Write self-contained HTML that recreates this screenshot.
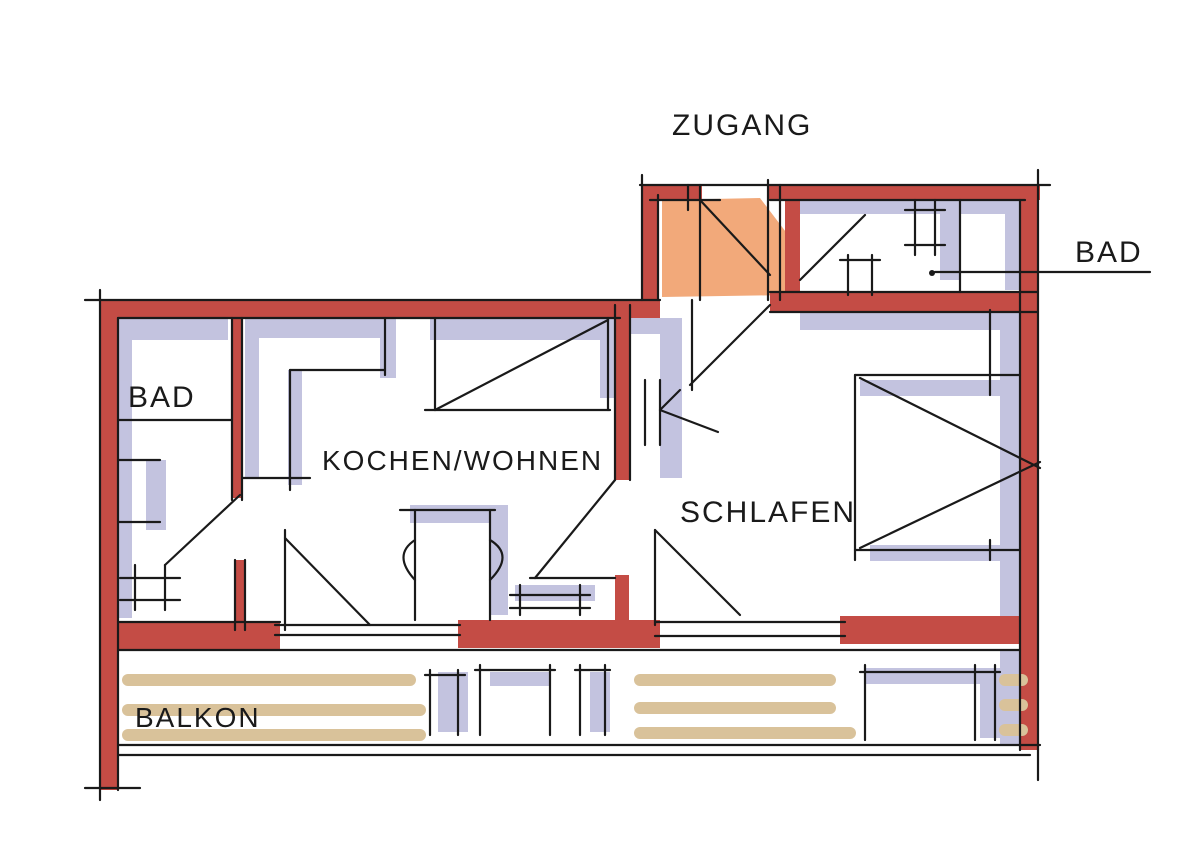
<!DOCTYPE html>
<html><head><meta charset="utf-8"><style>
html,body{margin:0;padding:0;background:#fff;}
svg{display:block}
text{font-family:"Liberation Sans",sans-serif;fill:#1a1a1a;font-size:30px;letter-spacing:2px}
</style></head><body>
<svg width="1200" height="847" viewBox="0 0 1200 847" xmlns="http://www.w3.org/2000/svg">
<rect width="1200" height="847" fill="#fff"/>
<!-- lavender shadows -->
<g fill="#b9b9da" opacity="0.85">
<rect x="118" y="318" width="110" height="22"/>
<rect x="118" y="318" width="14" height="300"/>
<rect x="245" y="318" width="150" height="20"/>
<rect x="380" y="318" width="16" height="60"/>
<rect x="430" y="318" width="185" height="22"/>
<rect x="600" y="318" width="15" height="80"/>
<rect x="288" y="370" width="14" height="115"/>
<rect x="245" y="318" width="14" height="160"/>
<rect x="630" y="318" width="50" height="16"/>
<rect x="660" y="318" width="22" height="160"/>
<rect x="800" y="312" width="220" height="18"/>
<rect x="1000" y="312" width="20" height="305"/>
<rect x="860" y="380" width="165" height="16"/>
<rect x="800" y="200" width="220" height="14"/>
<rect x="1005" y="200" width="15" height="90"/>
<rect x="940" y="200" width="20" height="80"/>
<rect x="146" y="460" width="20" height="70"/>
<rect x="410" y="505" width="95" height="18"/>
<rect x="490" y="505" width="18" height="110"/>
<rect x="515" y="585" width="80" height="16"/>
<rect x="438" y="672" width="30" height="60"/>
<rect x="490" y="672" width="60" height="14"/>
<rect x="590" y="672" width="20" height="60"/>
<rect x="865" y="668" width="120" height="16"/>
<rect x="980" y="668" width="20" height="70"/>
<rect x="1000" y="650" width="20" height="95"/>
<rect x="870" y="545" width="150" height="16"/>
</g>
<!-- orange door fill -->
<path d="M662 200 L760 198 L792 240 L790 295 L662 297 Z" fill="#f2a97a"/>
<!-- red walls -->
<g fill="#c44c45">
<rect x="100" y="300" width="18" height="490"/>
<rect x="100" y="300" width="560" height="18"/>
<rect x="642" y="185" width="16" height="115"/>
<rect x="642" y="185" width="60" height="15"/>
<rect x="768" y="185" width="272" height="15"/>
<rect x="1020" y="185" width="18" height="565"/>
<rect x="770" y="292" width="268" height="20"/>
<rect x="785" y="190" width="15" height="105"/>
<rect x="232" y="318" width="10" height="180"/>
<rect x="235" y="560" width="10" height="70"/>
<rect x="615" y="305" width="15" height="175"/>
<rect x="615" y="575" width="14" height="50"/>
<rect x="118" y="622" width="162" height="28"/>
<rect x="458" y="620" width="202" height="28"/>
<rect x="840" y="616" width="195" height="28"/>
</g>
<!-- balcony tan rails -->
<g stroke="#d9c29a" stroke-width="12" stroke-linecap="round" fill="none">
<line x1="128" y1="680" x2="410" y2="680"/>
<line x1="128" y1="710" x2="420" y2="710"/>
<line x1="128" y1="735" x2="420" y2="735"/>
<line x1="640" y1="680" x2="830" y2="680"/>
<line x1="640" y1="708" x2="830" y2="708"/>
<line x1="640" y1="733" x2="850" y2="733"/>
<line x1="1005" y1="680" x2="1022" y2="680"/>
<line x1="1005" y1="705" x2="1022" y2="705"/>
<line x1="1005" y1="730" x2="1022" y2="730"/>
</g>
<!-- black lines -->
<g stroke="#1a1a1a" stroke-width="2.2" fill="none" stroke-linecap="round">
<line x1="85" y1="300" x2="660" y2="300"/><line x1="100" y1="290" x2="100" y2="800"/>
<line x1="118" y1="318" x2="118" y2="790"/><line x1="85" y1="788" x2="140" y2="788"/>
<line x1="118" y1="318" x2="620" y2="318"/>
<line x1="640" y1="185" x2="1050" y2="185"/><line x1="650" y1="200" x2="720" y2="200"/>
<line x1="770" y1="200" x2="1025" y2="200"/>
<line x1="642" y1="175" x2="642" y2="300"/><line x1="658" y1="195" x2="658" y2="300"/>
<line x1="688" y1="185" x2="688" y2="210"/><line x1="700" y1="185" x2="700" y2="300"/>
<line x1="768" y1="180" x2="768" y2="300"/><line x1="780" y1="185" x2="780" y2="300"/>
<line x1="1020" y1="200" x2="1020" y2="750"/><line x1="1038" y1="170" x2="1038" y2="780"/>
<line x1="770" y1="292" x2="1038" y2="292"/><line x1="770" y1="312" x2="1038" y2="312"/>
<line x1="700" y1="200" x2="770" y2="275"/><line x1="800" y1="280" x2="865" y2="215"/>
<line x1="770" y1="305" x2="690" y2="385"/><line x1="692" y1="300" x2="692" y2="390"/>
<line x1="232" y1="318" x2="232" y2="500"/><line x1="242" y1="318" x2="242" y2="500"/>
<line x1="118" y1="420" x2="232" y2="420"/><line x1="242" y1="478" x2="310" y2="478"/>
<line x1="290" y1="370" x2="290" y2="490"/><line x1="290" y1="370" x2="385" y2="370"/>
<line x1="385" y1="318" x2="385" y2="375"/>
<line x1="435" y1="318" x2="435" y2="410"/><line x1="425" y1="410" x2="610" y2="410"/>
<line x1="435" y1="410" x2="608" y2="320"/><line x1="608" y1="318" x2="608" y2="410"/>
<line x1="615" y1="305" x2="615" y2="480"/><line x1="630" y1="305" x2="630" y2="480"/>
<line x1="615" y1="480" x2="535" y2="578"/><line x1="530" y1="578" x2="615" y2="578"/>
<line x1="680" y1="390" x2="660" y2="410"/><line x1="660" y1="410" x2="718" y2="432"/>
<line x1="645" y1="380" x2="645" y2="445"/><line x1="660" y1="380" x2="660" y2="445"/>
<line x1="240" y1="495" x2="165" y2="565"/><line x1="235" y1="560" x2="235" y2="630"/><line x1="245" y1="560" x2="245" y2="630"/>
<line x1="120" y1="578" x2="180" y2="578"/><line x1="120" y1="600" x2="180" y2="600"/>
<line x1="135" y1="565" x2="135" y2="610"/><line x1="165" y1="565" x2="165" y2="610"/>
<line x1="118" y1="460" x2="160" y2="460"/><line x1="118" y1="522" x2="160" y2="522"/>
<line x1="285" y1="538" x2="370" y2="625"/><line x1="285" y1="530" x2="285" y2="630"/>
<line x1="655" y1="530" x2="740" y2="615"/><line x1="655" y1="530" x2="655" y2="625"/>
<line x1="400" y1="510" x2="495" y2="510"/><line x1="415" y1="510" x2="415" y2="620"/><line x1="490" y1="510" x2="490" y2="620"/>
<path d="M415 540 Q392 555 415 580"/><path d="M490 540 Q515 555 490 580"/>
<line x1="510" y1="595" x2="590" y2="595"/><line x1="510" y1="608" x2="590" y2="608"/>
<line x1="520" y1="585" x2="520" y2="615"/><line x1="580" y1="585" x2="580" y2="615"/>
<line x1="118" y1="622" x2="280" y2="622"/><line x1="275" y1="635" x2="460" y2="635"/><line x1="275" y1="625" x2="460" y2="625"/>
<line x1="655" y1="622" x2="845" y2="622"/><line x1="655" y1="636" x2="845" y2="636"/>
<line x1="118" y1="650" x2="1020" y2="650"/><line x1="118" y1="745" x2="1040" y2="745"/><line x1="118" y1="755" x2="1030" y2="755"/>
<line x1="855" y1="375" x2="1020" y2="375"/><line x1="855" y1="375" x2="855" y2="560"/><line x1="855" y1="550" x2="1020" y2="550"/>
<line x1="860" y1="378" x2="1040" y2="468"/><line x1="860" y1="548" x2="1040" y2="462"/>
<line x1="990" y1="310" x2="990" y2="395"/><line x1="990" y1="540" x2="990" y2="560"/>
<line x1="430" y1="670" x2="430" y2="735"/><line x1="458" y1="670" x2="458" y2="735"/>
<line x1="425" y1="675" x2="465" y2="675"/><line x1="475" y1="670" x2="555" y2="670"/>
<line x1="480" y1="665" x2="480" y2="735"/><line x1="550" y1="665" x2="550" y2="735"/>
<line x1="575" y1="670" x2="610" y2="670"/><line x1="580" y1="665" x2="580" y2="735"/><line x1="605" y1="665" x2="605" y2="735"/>
<line x1="860" y1="672" x2="1000" y2="672"/><line x1="865" y1="665" x2="865" y2="740"/><line x1="975" y1="665" x2="975" y2="740"/><line x1="995" y1="665" x2="995" y2="740"/>
<line x1="905" y1="210" x2="945" y2="210"/><line x1="905" y1="245" x2="945" y2="245"/>
<line x1="915" y1="200" x2="915" y2="255"/><line x1="935" y1="200" x2="935" y2="255"/>
<line x1="840" y1="260" x2="880" y2="260"/><line x1="848" y1="255" x2="848" y2="295"/><line x1="872" y1="255" x2="872" y2="295"/>
<line x1="935" y1="272" x2="1150" y2="272"/><line x1="960" y1="200" x2="960" y2="292"/>
</g>
<circle cx="932" cy="273" r="3" fill="#1a1a1a"/>
<text x="672" y="135">ZUGANG</text>
<text x="1075" y="262">BAD</text>
<text x="128" y="407">BAD</text>
<text x="322" y="470" style="font-size:28px">KOCHEN/WOHNEN</text>
<text x="680" y="522">SCHLAFEN</text>
<text x="135" y="727" style="font-size:28px">BALKON</text>
</svg>
</body></html>
